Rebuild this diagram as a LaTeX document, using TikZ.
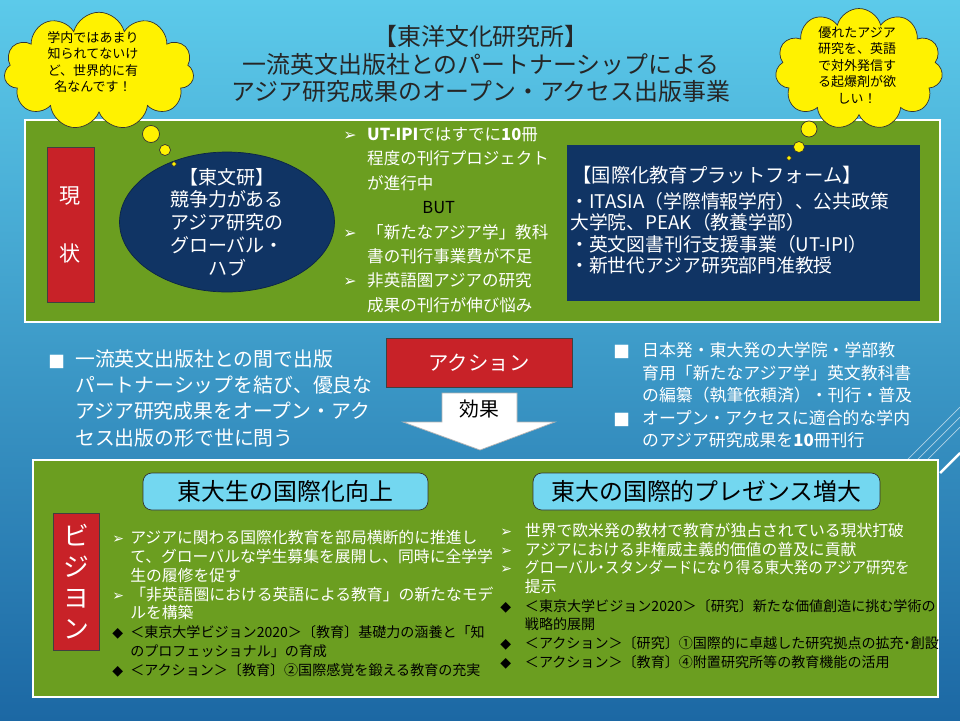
\documentclass[tikz,border=0pt]{standalone}
\usepackage{graphicx}
\usepackage{fontspec}
\setmainfont{Noto Sans CJK JP}
\newfontfamily\symfont{DejaVu Sans}
\usetikzlibrary{shapes.geometric,shapes.symbols,positioning}

\definecolor{skytop}{RGB}{92,202,234}
\definecolor{skymid}{RGB}{50,150,204}
\definecolor{skybottom}{RGB}{28,104,164}
\definecolor{panelgreen}{RGB}{107,158,32}
\definecolor{statered}{RGB}{200,34,40}
\definecolor{platnavy}{RGB}{16,52,100}
\definecolor{headcyan}{RGB}{115,215,240}

\newcommand\fsz[2]{\fontsize{#1pt}{#2pt}\selectfont}
\newcommand\arwb[2][8pt]{\makebox[#2][l]{{\symfont\fontsize{#1}{#1}\selectfont ➢}}}
\newcommand\sqb[1]{\makebox[#1][l]{{\symfont\fontsize{10pt}{10pt}\selectfont ■}}}
\newcommand\dmb[1]{\makebox[#1][l]{{\symfont\color{black}\fontsize{8pt}{8pt}\selectfont ◆}}}
\newcommand\skipbul[1]{\hspace*{#1}}
\newcommand\blk[1]{{\color{black}\fontsize{8pt}{8pt}\selectfont #1}}
\newcommand\nk{\makebox[0.5em][c]{・}}

\tikzset{
  panel/.style={draw=white, line width=1.4pt, fill=panelgreen, inner sep=0pt, outer sep=0pt},
  redtag/.style={draw=black!75, fill=statered, text=white, inner sep=0pt, align=center},
  navybox/.style={fill=platnavy, draw=platnavy, inner sep=0pt},
  hubellipse/.style={ellipse, fill=platnavy, draw=platnavy!70!black, inner sep=0pt,
    minimum width=4.3cm, minimum height=2.8cm},
  listtext/.style={text=white, align=left, inner sep=0pt},
  titletext/.style={align=center, text=black!85, font=\fsz{13.6}{15.6}},
  cloudshape/.style={cloud, cloud puffs=11, cloud ignores aspect, draw=black!80, fill=yellow,
    inner sep=0pt},
  cloudtext/.style={align=center, inner sep=0pt, font=\fsz{7.4}{9.4}},
  bubble/.style={circle, draw=black!80, fill=yellow, inner sep=0pt},
  headbox/.style={draw=black!80, fill=headcyan, rounded corners=5pt, minimum height=0.74cm,
    font=\fsz{13.6}{15}},
  effectarrow/.style={fill=white, draw=gray!60}
}

\begin{document}
\begin{tikzpicture}[x=0.02cm, y=-0.02cm]
  \useasboundingbox (0,0) rectangle (960,720);
  \shade[top color=skytop, middle color=skymid, bottom color=skybottom] (0,0) rectangle (960,720);
  % slanted lines at the right edge
  \foreach \d in {0,10,20}
    \draw[white, opacity=0.6] (905+\d,462) -- (960,407+\d);

  \node[titletext] (title) at (481,64) {【東洋文化研究所】\\一流英文出版社とのパートナーシップによる\\アジア研究成果のオープン・アクセス出版事業};

  % current state
  \node[panel, minimum width=18.3cm, minimum height=4.04cm] (toppanel) at (482.5,221) {};
  \node[redtag, minimum width=0.94cm, minimum height=3.1cm, font=\fsz{12}{33}] (genjo) at (70.5,224.5) {現\\状};
  \node[hubellipse] (hub) at (227,222) {};
  \node[listtext, align=center, font=\fsz{10.8}{13}] (hubtext) at (hub.center) {【東文研】\\競争力がある\\アジア研究の\\グローバル・\\ハブ};
  \node[listtext, font=\fsz{9.4}{13.9}, anchor=north west] (issues) at (343,127) {%
    \arwb[9pt]{13.6pt}{\bfseries UT-IPI}ではすでに{\bfseries 10}冊\\
    \skipbul{13.6pt}程度の刊行プロジェクト\\
    \skipbul{13.6pt}が進行中\\
    \skipbul{45pt}{\color{black}BUT}\\
    \arwb[9pt]{13.6pt}「新たなアジア学」教科\\
    \skipbul{13.6pt}書の刊行事業費が不足\\
    \arwb[9pt]{13.6pt}非英語圏アジアの研究\\
    \skipbul{13.6pt}成果の刊行が伸び悩み};
  \node[navybox, minimum width=7.04cm, minimum height=3.1cm] (platform) at (743,222.5) {};
  \node[listtext, font=\fsz{11}{13}, anchor=west] (plathead) at (572,175) {【国際化教育プラットフォーム】};
  \node[listtext, font=\fsz{10.7}{12.2}, anchor=north west] (platbody) at (570,192) {%
    ・ITASIA（学際情報学府）、公共政策\\
    大学院、PEAK（教養学部）\\
    ・英文図書刊行支援事業（UT-IPI）\\
    ・新世代アジア研究部門准教授};

  % thought clouds
  \node[cloudshape, minimum width=3.8cm, minimum height=2.35cm] (leftcloud) at (99,71) {};
  \node[cloudtext] (leftnote) at (93,62) {学内ではあまり\\知られてないけ\\ど、世界的に有\\名なんです！};
  \node[bubble, minimum size=0.34cm] (lbub1) at (151,134) {};
  \node[bubble, minimum size=0.22cm] (lbub2) at (165,150) {};
  \node[bubble, minimum size=0.09cm] (lbub3) at (174,164) {};
  \node[cloudshape, minimum width=3.35cm, minimum height=2.42cm] (rightcloud) at (859,69) {};
  \node[cloudtext] (rightnote) at (857,65) {優れたアジア\\研究を、英語\\で対外発信す\\る起爆剤が欲\\しい！};
  \node[bubble, minimum size=0.32cm] (rbub1) at (809,129) {};
  \node[bubble, minimum size=0.22cm] (rbub2) at (799,147) {};
  \node[bubble, minimum size=0.09cm] (rbub3) at (789,158) {};

  % action
  \node[listtext, font=\fsz{11.3}{15}, anchor=north west] (plan) at (48,349) {%
    \sqb{15.3pt}一流英文出版社との間で出版\\
    \skipbul{15.3pt}パートナーシップを結び、優良な\\
    \skipbul{15.3pt}アジア研究成果をオープン・アク\\
    \skipbul{15.3pt}セス出版の形で世に問う};
  \node[redtag, minimum width=3.72cm, minimum height=0.98cm, font=\fsz{11.6}{14}] (action) at (479,362.5) {アクション};
  \draw[effectarrow] (442,393) -- (517,393) -- (517,422) -- (555,422) -- (480,450) -- (403,422) -- (442,422) -- cycle;
  \node[font=\fsz{11.3}{13}] (effect) at (479,409) {効果};
  \node[listtext, font=\fsz{9.6}{12.8}, anchor=north west] (deliver) at (613,342) {%
    \sqb{16.4pt}日本発・東大発の大学院・学部教\\
    \skipbul{16.4pt}育用「新たなアジア学」英文教科書\\
    \skipbul{16.4pt}の編纂（執筆依頼済）・刊行・普及\\
    \sqb{16.4pt}オープン・アクセスに適合的な学内\\
    \skipbul{16.4pt}のアジア研究成果を{\bfseries 10}冊刊行};

  % vision
  \node[panel, minimum width=18.1cm, minimum height=4.74cm] (botpanel) at (485.5,578.5) {};
  \draw[white, line width=1.4pt] (940,473) -- (960,453);
  \node[headbox, minimum width=5.7cm] (students) at (285.5,491.5) {東大生の国際化向上};
  \node[headbox, minimum width=6.94cm] (presence) at (706.5,491.5) {東大の国際的プレゼンス増大};
  \node[redtag, minimum width=0.92cm, minimum height=2.74cm, font=\fsz{14.7}{17.6}] (vision) at (76,581.5) {ビ\\ジ\\ヨ\\ン};
  \node[listtext, font=\fsz{9}{10.7}, anchor=north west] (studentgoals) at (112,530) {%
    \arwb{10.2pt}アジアに関わる国際化教育を部局横断的に推進し\\
    \skipbul{10.2pt}て、グローバルな学生募集を展開し、同時に全学学\\
    \skipbul{10.2pt}生の履修を促す\\
    \arwb{10.2pt}「非英語圏における英語による教育」の新たなモデ\\
    \skipbul{10.2pt}ルを構築\\
    \dmb{10.2pt}\blk{＜東京大学ビジョン2020＞〔教育〕基礎力の涵養と「知}\\
    \skipbul{10.2pt}\blk{のプロフェッショナル」の育成}\\
    \dmb{10.2pt}\blk{＜アクション＞〔教育〕②国際感覚を鍛える教育の充実}};
  \node[listtext, font=\fsz{9}{10.6}, anchor=north west] (presencegoals) at (500,523) {%
    \arwb{14pt}世界で欧米発の教材で教育が独占されている現状打破\\
    \arwb{14pt}アジアにおける非権威主義的価値の普及に貢献\\
    \arwb{14pt}\scalebox{0.92}[1]{グローバル\nk スタンダードになり得る東大発のアジア研究を}\\
    \skipbul{14pt}提示\\
    \dmb{14pt}\blk{＜東京大学ビジョン2020＞〔研究〕新たな価値創造に挑む学術の}\\
    \skipbul{14pt}\blk{戦略的展開}\\
    \dmb{14pt}\blk{＜アクション＞〔研究〕①国際的に卓越した研究拠点の拡充\nk 創設}\\
    \dmb{14pt}\blk{＜アクション＞〔教育〕④附置研究所等の教育機能の活用}};
\end{tikzpicture}
\end{document}
